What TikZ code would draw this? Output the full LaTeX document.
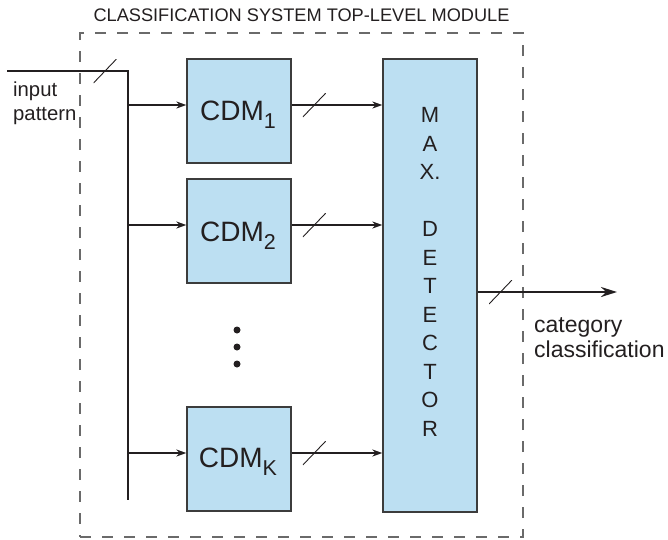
\documentclass[tikz,border=0pt]{standalone}
\usepackage{fontspec}
\setmainfont{Liberation Sans}
\usetikzlibrary{arrows.meta}
\definecolor{ink}{HTML}{231F20}
\definecolor{boxfill}{HTML}{BCDFF2}
\definecolor{boxedge}{HTML}{3C3C3C}
\definecolor{framegray}{HTML}{6A6A6A}

\begin{document}
\begin{tikzpicture}[x=1pt,y=-1pt,
  cdm/.style={draw=boxedge, line width=1.3pt, fill=boxfill,
    minimum width=104pt, minimum height=104pt, inner sep=0pt,
    text=ink, font=\fontsize{28}{32}\selectfont},
  maxbox/.style={draw=boxedge, line width=1.3pt, fill=boxfill,
    minimum width=94pt, minimum height=453pt, inner sep=0pt},
  letter/.style={text=ink, inner sep=0pt, font=\fontsize{22}{26}\selectfont},
  modframe/.style={draw=framegray, line width=1.3pt,
    dash pattern=on 11pt off 11pt, minimum width=443pt,
    minimum height=504pt, inner sep=0pt},
  wire/.style={draw=ink, line width=2.4pt},
  arr/.style={wire, -{Stealth[length=10pt,width=7pt]}},
  bigarr/.style={wire, -{Stealth[length=16pt,width=10pt]}},
  slashmark/.style={inner sep=0pt, minimum width=23pt, minimum height=24pt,
    path picture={\draw[-, ink, line width=0.9pt]
      (path picture bounding box.south west) --
      (path picture bounding box.north east);}},
  dot/.style={circle, fill=ink, inner sep=0pt, minimum size=7pt},
  small/.style={text=ink, inner sep=0pt, anchor=base west,
    font=\fontsize{20.3}{24}\selectfont},
  outlabel/.style={text=ink, inner sep=0pt, anchor=base west,
    font=\fontsize{23}{26}\selectfont},
  titlelabel/.style={text=ink, inner sep=0pt, anchor=base,
    font=\fontsize{18.2}{21}\selectfont}
]
\useasboundingbox (0,0) rectangle (668,539);

% module frame and its title
\node[modframe] (module) at (301.5,285) {};
\node[titlelabel] (title) at (301.5,21) {CLASSIFICATION SYSTEM TOP-LEVEL MODULE};

% classifier blocks (the label node sits a little low for its subscript)
\newcommand{\cdmlabel}[1]{CDM\raisebox{-8.5pt}{\fontsize{21.5}{21.5}\selectfont #1}}
\node[cdm] (cdm1) at (239,111) {};
\node[cdm] (cdm2) at (239,231) {};
\node[cdm] (cdmK) at (239,459) {};
\node[text=ink, inner sep=0pt, font=\fontsize{28}{32}\selectfont, anchor=base]
  (cdm1txt) at (238,120) {\cdmlabel{1}};
\node[text=ink, inner sep=0pt, font=\fontsize{28}{32}\selectfont, anchor=base]
  (cdm2txt) at (238,241) {\cdmlabel{2}};
\node[text=ink, inner sep=0pt, font=\fontsize{28}{32}\selectfont, anchor=base]
  (cdmKtxt) at (238,467) {\cdmlabel{K}};

% ellipsis between blocks
\node[dot] (dot1) at (237,330) {};
\node[dot] (dot2) at (237,347) {};
\node[dot] (dot3) at (237,364) {};

% max detector
\node[maxbox] (maxdet) at (430,285.5) {};
\foreach \ch [count=\i] in {M,A,X.,{},D,E,T,E,C,T,O,R}
  \node[letter] (ltr\i) at (430,{115+28.5*(\i-1)}) {\ch};

% input bus
\coordinate (in) at (7,71);
\coordinate (corner) at (128,71);
\coordinate (busend) at (128,500);
\draw[wire] (in) -- node[slashmark, pos=0.81] (sin) {} (corner) -- (busend);
\node[small] (lblin1) at (13,96) {input};
\node[small] (lblin2) at (13,120) {pattern};

% taps into the blocks and outputs to the detector
\coordinate (t1) at (128,105);
\coordinate (t2) at (128,225);
\coordinate (tK) at (128,453);
\foreach \k in {1,2,K} {
  \draw[arr] (t\k) -- (t\k -| cdm\k.west);
  \draw[arr] (t\k -| cdm\k.east) -- node[slashmark, pos=0.25] (s\k) {} (t\k -| maxdet.west);
}

% detector output
\coordinate (out) at (617,292);
\draw[bigarr] (out -| maxdet.east) -- node[slashmark, pos=0.164] (sout) {} (out);
\node[outlabel] (lblout1) at (534,332) {category};
\node[outlabel] (lblout2) at (534,357) {classification};
\end{tikzpicture}
\end{document}
